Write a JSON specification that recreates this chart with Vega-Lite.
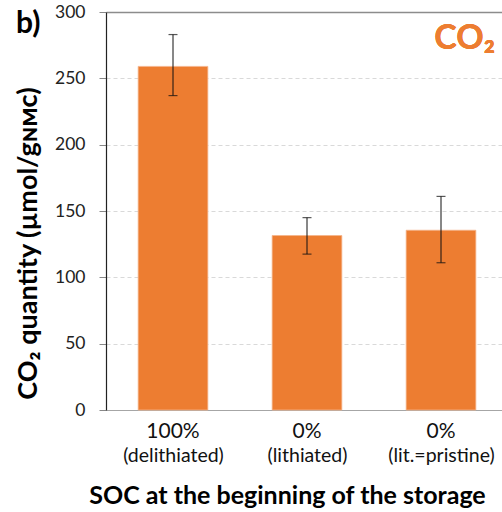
{
  "$schema": "https://vega.github.io/schema/vega-lite/v6.json",
  "width": 396,
  "height": 398,
  "autosize": {"type": "none"},
  "padding": {"left": 106, "top": 12, "right": 0, "bottom": 102},
  "background": "white",
  "config": {"font": "Lato", "view": {"stroke": null}},
  "title": {"text": "b)", "anchor": "start", "frame": "group", "fontSize": 30, "fontWeight": "bold", "color": "black", "dx": -90, "dy": 60, "offset": 0, "baseline": "alphabetic"},
  "data": {"values": [
    {"state": "delithiated", "value": 259, "low": 237, "high": 283},
    {"state": "lithiated", "value": 131.5, "low": 117.5, "high": 145},
    {"state": "lit.=pristine", "value": 135.5, "low": 111, "high": 161}
  ]},
  "resolve": {"scale": {"x": "independent"}, "axis": {"x": "independent"}},
  "layer": [
    {
      "encoding": {
        "x": {"field": "state", "type": "nominal", "sort": null,
          "scale": {"range": [0, 402], "paddingInner": 0.48, "paddingOuter": 0.24},
          "axis": {"orient": "bottom", "domainColor": "#A6A6A6", "domainWidth": 1.2, "ticks": false, "labelAngle": 0, "labelFontSize": 21, "labelColor": "#111", "labelPadding": 10, "labelExpr": "datum.value == 'delithiated' ? '100%' : '0%'", "title": null}}
      },
      "layer": [
        {"mark": {"type": "bar", "color": "#ED7D31", "stroke": "#F5B48A", "strokeWidth": 0.8},
         "encoding": {"y": {"field": "value", "type": "quantitative", "scale": {"domain": [0, 300]},
           "axis": {"values": [0, 50, 100, 150, 200, 250, 300], "domainColor": "#222", "domainWidth": 1.2, "tickColor": "#888", "tickSize": 7, "labelFontSize": 17.5, "labelColor": "#222", "labelPadding": 14,
             "grid": true,
             "gridColor": {"condition": {"test": "datum.value == 300", "value": "#8C8C8C"}, "value": "#D9D9D9"},
             "gridDash": {"condition": {"test": "datum.value == 300", "value": []}, "value": [4, 3]},
             "gridOpacity": {"condition": {"test": "datum.value == 0", "value": 0}, "value": 1},
             "gridWidth": {"condition": {"test": "datum.value == 300", "value": 1.5}, "value": 1},
             "title": "CO₂ quantity (µmol/gɴᴍᴄ)", "titleFontSize": 27, "titleFontWeight": "bold", "titleColor": "black", "titlePadding": 12, "titleY": 231}}}},
        {"mark": {"type": "rule", "color": "#111", "strokeWidth": 1},
         "encoding": {"y": {"field": "low", "type": "quantitative"}, "y2": {"field": "high"}}},
        {"mark": {"type": "tick", "color": "#111", "size": 9, "thickness": 1.2, "orient": "horizontal"},
         "encoding": {"y": {"field": "low", "type": "quantitative"}}},
        {"mark": {"type": "tick", "color": "#111", "size": 9, "thickness": 1.2, "orient": "horizontal"},
         "encoding": {"y": {"field": "high", "type": "quantitative"}}},
        {"mark": {"type": "text", "text": "CO₂", "fontSize": 34, "fontWeight": "bold", "color": "#ED7D31", "align": "right", "baseline": "alphabetic", "dx": 54},
         "encoding": {"x": {"datum": "lit.=pristine"}, "y": {"datum": 272}}}
      ]
    },
    {
      "mark": {"type": "point", "opacity": 0},
      "encoding": {
        "x": {"field": "state", "type": "nominal", "sort": null,
          "scale": {"range": [0, 402], "paddingInner": 0.48, "paddingOuter": 0.24},
          "axis": {"orient": "bottom", "offset": 26, "domain": false, "ticks": false, "labelAngle": 0, "labelFontSize": 19.5, "labelColor": "#111", "labelPadding": 10, "labelExpr": "'(' + datum.value + ')'",
            "title": "SOC at the beginning of the storage", "titleFontSize": 25, "titleFontWeight": "bold", "titleColor": "black", "titlePadding": 19, "titleX": 181}},
        "y": {"field": "value", "type": "quantitative"}
      }
    }
  ]
}
